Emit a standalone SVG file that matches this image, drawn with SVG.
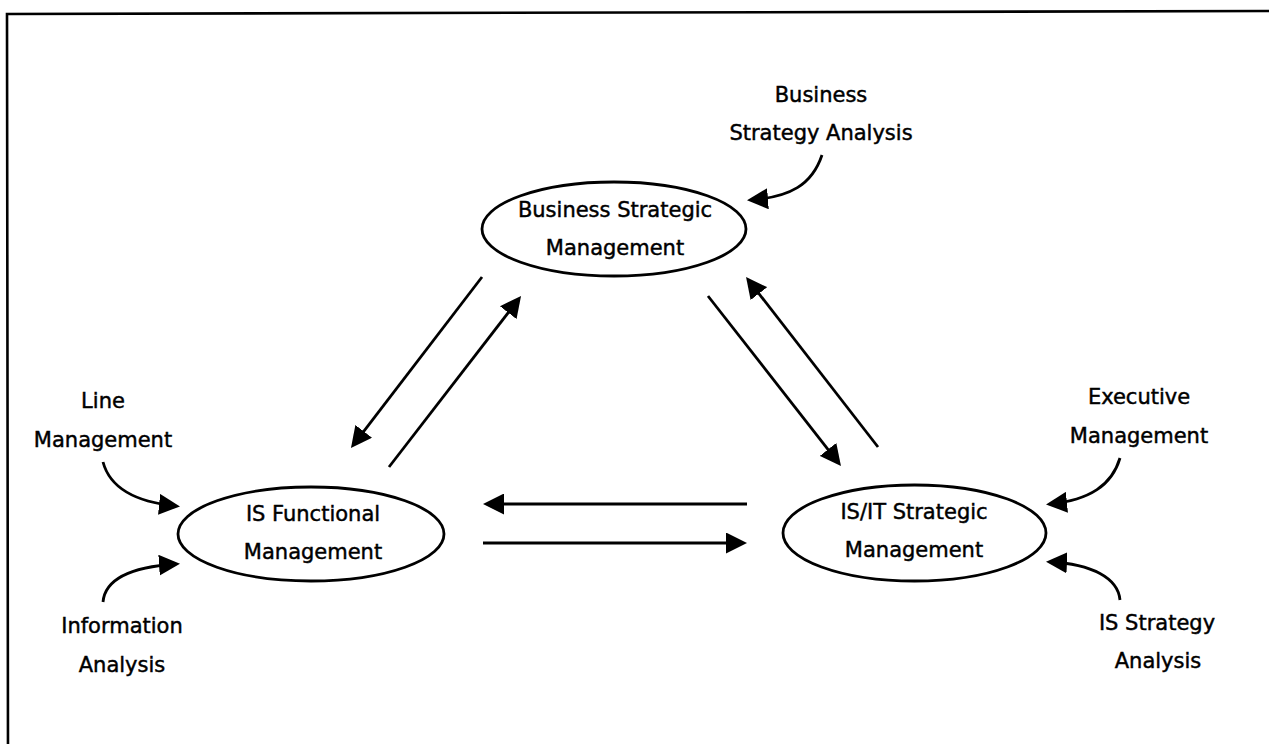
<svg xmlns="http://www.w3.org/2000/svg" width="1269" height="744" viewBox="0 0 1269 744">
  <style>
    .frame { fill: none; stroke: #000; stroke-width: 2.6; }
    .node ellipse { fill: #fff; stroke: #000; stroke-width: 2.8; }
    text { font-family: "DejaVu Sans", Verdana, sans-serif; font-size: 21px; fill: #000; stroke: #000; stroke-width: 0.45; text-anchor: middle; }
    .conn path { fill: none; stroke: #000; stroke-width: 2.8; marker-end: url(#head); }
  </style>
  <defs>
    <marker id="head" viewBox="0 0 21 21" refX="17" refY="10.5" markerWidth="21" markerHeight="21" markerUnits="userSpaceOnUse" orient="auto">
      <path d="M0,0 L21,10.5 L0,21 z" fill="#000"/>
    </marker>
  </defs>
  <rect width="1269" height="744" fill="#fff"/>

  <!-- outer border -->
  <path class="frame" d="M8,760 L7,14 L1275,11"/>

  <!-- connectors -->
  <g id="connectors" class="conn">
    <!-- between the three management nodes -->
    <path d="M482,277 L353.4,444.8"/>
    <path d="M389,467 L518.6,299.2"/>
    <path d="M708,296 L838.5,462.8"/>
    <path d="M878,447 L748.5,280.2"/>
    <path d="M747,504 L487,504"/>
    <path d="M483,543 L743,543"/>
    <!-- inputs from the outer labels -->
    <path d="M822,155 C812,185 790,197 751,200"/>
    <path d="M103,462 C110,488 135,502 176,506"/>
    <path d="M103,602 C105,580 130,567 176,564"/>
    <path d="M1120,458 C1112,485 1090,500 1050,504"/>
    <path d="M1120,600 C1118,578 1092,564 1050,562"/>
  </g>

  <g id="business-strategic" class="node">
    <ellipse cx="614" cy="229" rx="132" ry="47"/>
    <text x="615" y="217">Business Strategic</text>
    <text x="615" y="255">Management</text>
  </g>

  <g id="is-functional" class="node">
    <ellipse cx="311" cy="534" rx="133" ry="47"/>
    <text x="313" y="521">IS Functional</text>
    <text x="313" y="559">Management</text>
  </g>

  <g id="isit-strategic" class="node">
    <ellipse cx="914.5" cy="533" rx="131.5" ry="48"/>
    <text x="914" y="519">IS/IT Strategic</text>
    <text x="914" y="557">Management</text>
  </g>

  <g id="business-strategy-analysis">
    <text x="821" y="102">Business</text>
    <text x="821" y="140">Strategy Analysis</text>
  </g>

  <g id="line-management">
    <text x="103" y="408">Line</text>
    <text x="103" y="447">Management</text>
  </g>

  <g id="information-analysis">
    <text x="122" y="633">Information</text>
    <text x="122" y="672">Analysis</text>
  </g>

  <g id="executive-management">
    <text x="1139" y="404">Executive</text>
    <text x="1139" y="443">Management</text>
  </g>

  <g id="is-strategy-analysis">
    <text x="1157" y="630">IS Strategy</text>
    <text x="1158" y="668">Analysis</text>
  </g>
</svg>
